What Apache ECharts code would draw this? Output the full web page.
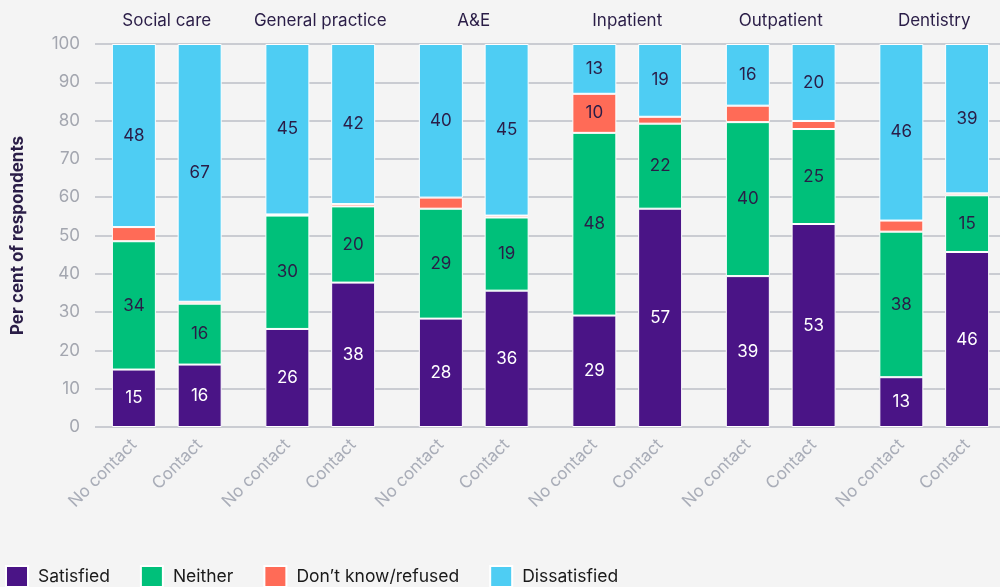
<!DOCTYPE html>
<html>
<head>
<meta charset="utf-8">
<script src="https://cdn.jsdelivr.net/npm/echarts@6/dist/echarts.min.js"></script>
<style>
html,body{margin:0;padding:0;background:#f4f4f4;}
#chart{width:1000px;height:587px;}
</style>
</head>
<body>
<div id="chart"></div>
<script>
const groups = ['Social care', 'General practice', 'A&E', 'Inpatient', 'Outpatient', 'Dentistry'];
const subCategories = ['No contact', 'Contact'];
const seriesNames = ['Satisfied', 'Neither', 'Don\u2019t know/refused', 'Dissatisfied'];
// order: [group][No contact, Contact]
const satisfied    = [15.0, 16.3, 25.6, 37.7, 28.3, 35.6, 29.1, 57.0, 39.4, 53.0, 13.0, 45.7];
const neither      = [33.5, 15.9, 29.6, 19.9, 28.7, 19.1, 47.7, 22.2, 40.2, 24.8, 38.0, 14.8];
const dontKnow     = [ 3.7,  0.5,  0.3,  0.6,  2.9,  0.5, 10.2,  1.8,  4.3,  2.1,  2.9,  0.5];
const dissatisfied = [47.8, 67.3, 44.5, 41.8, 40.1, 44.8, 13.0, 19.0, 16.1, 20.1, 46.1, 39.0];
const yTicks = [0, 10, 20, 30, 40, 50, 60, 70, 80, 90, 100];

const colors = ['#4a1486', '#00c07a', '#ff6b57', '#4ecdf3'];
const labelColors = ['#ffffff', '#2a1d47', '#2a1d47', '#2a1d47'];
const seriesValues = [satisfied, neither, dontKnow, dissatisfied];

// Layout: bars sit on a fine-grained category axis (slots), so pairs are closer than groups
const GROUP_STEP = 7, PAIR_STEP = 3, LEAD = 1, N_SLOTS = 41;
const slotOf = [];            // slot index of each bar
const slotLabel = {};         // slot -> sub-category label
groups.forEach((g, gi) => subCategories.forEach((s, si) => {
  const k = LEAD + gi * GROUP_STEP + si * PAIR_STEP;
  slotOf.push(k);
  slotLabel[k] = s;
}));
const groupCenters = groups.map((g, gi) => LEAD + gi * GROUP_STEP + PAIR_STEP / 2);
const groupLabel = {};
groupCenters.forEach((c, i) => groupLabel[c] = groups[i]);
const slots = Array.from({length: N_SLOTS}, (_, i) => String(i));

const FONT = 'Inter, "Open Sans", sans-serif';

const chart = echarts.init(document.getElementById('chart'), null, {renderer: 'canvas'});
chart.setOption({
  backgroundColor: '#f4f4f4',
  animation: false,
  grid: [
    {left: 95, right: 0, top: 44, bottom: 160, containLabel: false},
    {left: 101, width: 900, top: 44, bottom: 160, containLabel: false}
  ],
  xAxis: [{
    gridIndex: 0, type: 'value', min: 0, max: 1, show: false
  }, {
    gridIndex: 1, type: 'category', data: slots, position: 'bottom',
    axisLine: {show: false}, axisTick: {show: false}, splitLine: {show: false},
    axisLabel: {
      interval: 0, rotate: 45, margin: 15,
      color: '#a9adb8', fontSize: 17, fontFamily: FONT,
      formatter: (v, i) => slotLabel[i] || ''
    }
  }, {
    gridIndex: 1, type: 'value', min: -0.5, max: N_SLOTS - 0.5, position: 'top',
    axisLine: {show: false}, axisTick: {show: false}, splitLine: {show: false},
    axisLabel: {
      customValues: groupCenters, margin: 15,
      color: '#2a1d47', fontSize: 17, fontFamily: FONT,
      formatter: v => groupLabel[v] || ''
    }
  }],
  yAxis: [{
    gridIndex: 0, type: 'value', min: 0, max: 100, interval: 10,
    name: 'Per cent of respondents',
    nameLocation: 'middle', nameGap: 69, nameRotate: 90,
    nameTextStyle: {color: '#2a1d47', fontSize: 17, fontWeight: 'bold', fontFamily: FONT},
    axisLine: {show: false}, axisTick: {show: false},
    axisLabel: {color: '#a3a6af', fontSize: 17, margin: 15, fontFamily: FONT,
      formatter: v => yTicks.indexOf(v) >= 0 ? String(v) : ''},
    splitLine: {lineStyle: {color: '#bcbfc7', width: 1.5}}
  }, {
    gridIndex: 1, type: 'value', min: 0, max: 100, show: false
  }],
  legend: {
    left: 5, top: 565, padding: 0,
    icon: 'rect', itemWidth: 22, itemHeight: 21, itemGap: 30,
    textStyle: {color: '#1a1a1a', fontSize: 17.5, fontFamily: FONT, padding: [0, 0, 0, 5]},
    data: seriesNames
  },
  series: seriesNames.map((name, si) => {
    const data = Array(N_SLOTS).fill(null);
    seriesValues[si].forEach((v, i) => { data[slotOf[i]] = v; });
    return {
      name: name,
      type: 'bar',
      stack: 'total',
      xAxisIndex: 1, yAxisIndex: 1,
      barWidth: 44,
      itemStyle: {color: colors[si], borderColor: '#ffffff', borderWidth: 1},
      label: {
        show: true, position: 'inside',
        color: labelColors[si], fontSize: 17, fontFamily: FONT,
        formatter: p => (p.value != null && p.value >= 9.5) ? String(Math.round(p.value)) : ''
      },
      data: data
    };
  })
});
</script>
</body>
</html>
